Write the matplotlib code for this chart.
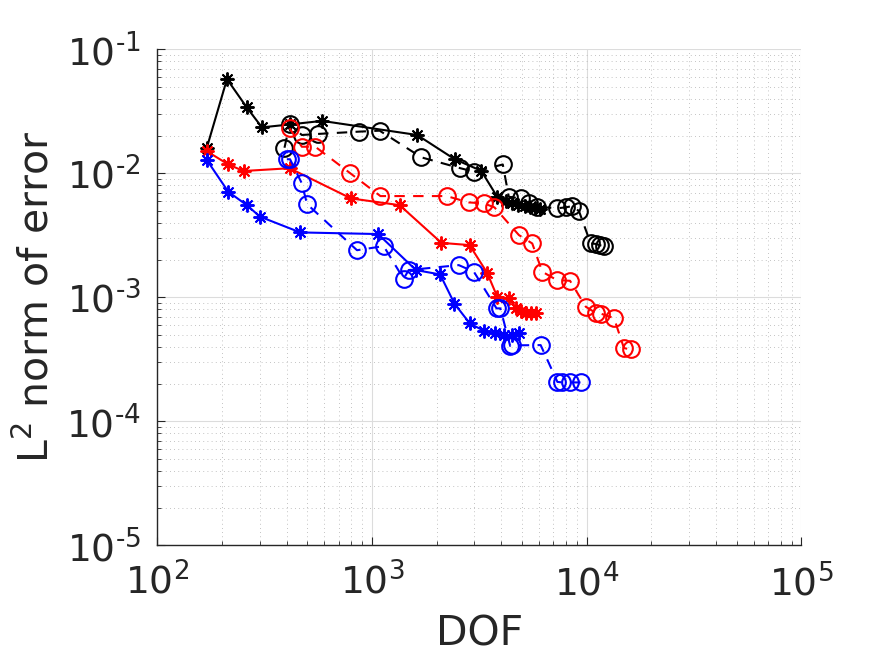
import numpy as np
import matplotlib
matplotlib.use("Agg")
import matplotlib.pyplot as plt
from matplotlib.ticker import LogLocator, NullFormatter

# Black solid (asterisk)
black_solid_x = [170, 211, 261, 307, 413, 585, 1623, 2427, 3222, 3830, 4190, 4510, 4810, 5130, 5420, 5720, 6030]
black_solid_y = [0.0161, 0.0576, 0.034, 0.0235, 0.0248, 0.0265, 0.0204, 0.013, 0.0105, 0.00647, 0.00598, 0.00575, 0.00554, 0.00544, 0.00534, 0.00525, 0.00515]
# Black dashed (circle)
black_dash_x = [391, 413, 471, 560, 866, 1085, 1699, 2581, 3000, 4064, 4335, 4920, 5370, 5890, 7300, 7980, 8580, 9200, 10430, 11000, 11520, 12030]
black_dash_y = [0.0161, 0.0248, 0.0204, 0.0208, 0.0217, 0.0221, 0.01346, 0.011, 0.0103, 0.0118, 0.00647, 0.00628, 0.0058, 0.00538, 0.00523, 0.00532, 0.00545, 0.00497, 0.00272, 0.0027, 0.00263, 0.00259]
# Red solid (asterisk)
red_solid_x = [170, 214, 252, 413, 798, 1345, 2105, 2845, 3435, 3830, 4340, 4700, 4950, 5200, 5480, 5780]
red_solid_y = [0.0151, 0.0118, 0.01045, 0.011, 0.00628, 0.00554, 0.00275, 0.00264, 0.00158, 0.00101, 0.00098, 0.00082, 0.00077, 0.00075, 0.00075, 0.00075]
# Red dashed (circle)
red_dash_x = [413, 471, 544, 787, 1094, 2225, 2822, 3314, 3716, 4830, 5575, 6205, 7250, 8360, 9900, 11000, 11600, 13400, 14900, 16000]
red_dash_y = [0.0231, 0.0164, 0.0164, 0.0101, 0.00656, 0.00656, 0.00583, 0.00573, 0.00532, 0.00318, 0.00272, 0.00161, 0.00138, 0.00136, 0.00084, 0.00075, 0.00074, 0.00068, 0.00039, 0.00038]
# Blue solid (asterisk)
blue_solid_x = [170, 214, 261, 301, 463, 1067, 1600, 2075, 2420, 2853, 3314, 3755, 4110, 4500, 4830]
blue_solid_y = [0.0128, 0.00711, 0.00554, 0.00447, 0.00334, 0.00324, 0.00166, 0.00153, 0.00089, 0.000616, 0.000538, 0.000512, 0.000497, 0.000497, 0.000512]
# Blue dashed (circle)
blue_dash_x = [401, 415, 471, 498, 851, 1133, 1403, 1481, 2535, 2980, 3800, 3960, 4400, 4500, 6100, 7300, 7700, 8400, 9370]
blue_dash_y = [0.013, 0.013, 0.0083, 0.00565, 0.0024, 0.00259, 0.00141, 0.00166, 0.00182, 0.00161, 0.000815, 0.000815, 0.000405, 0.00041, 0.000412, 0.000208, 0.000206, 0.000206, 0.000206]

xticks = [1e2, 1e3, 1e4, 1e5]
xticklabels = [r'$10^{2}$', r'$10^{3}$', r'$10^{4}$', r'$10^{5}$']
yticks = [1e-5, 1e-4, 1e-3, 1e-2, 1e-1]
yticklabels = [r'$10^{\text{-}5}$', r'$10^{\text{-}4}$', r'$10^{\text{-}3}$', r'$10^{\text{-}2}$', r'$10^{\text{-}1}$']

plt.rcParams['font.family'] = ['DejaVu Sans']
plt.rcParams['mathtext.fontset'] = 'dejavusans'

fig = plt.figure(figsize=(8.84, 6.63), dpi=100)
ax = fig.add_axes([0.178, 0.1775, 0.7286, 0.748])

ast = (8, 2, 0)
lw = 1.5
ax.plot(black_solid_x, black_solid_y, '-', color='black', marker=ast, ms=10, mew=1.4, lw=lw, zorder=3)
ax.plot(black_dash_x, black_dash_y, '--', color='black', marker='o', ms=12, mfc='none', mew=1.5, lw=lw, dashes=(5, 4), zorder=3)
ax.plot(red_solid_x, red_solid_y, '-', color='red', marker=ast, ms=10, mew=1.4, lw=lw, zorder=3)
ax.plot(red_dash_x, red_dash_y, '--', color='red', marker='o', ms=12, mfc='none', mew=1.5, lw=lw, dashes=(5, 4), zorder=3)
ax.plot(blue_solid_x, blue_solid_y, '-', color='blue', marker=ast, ms=10, mew=1.4, lw=lw, zorder=3)
ax.plot(blue_dash_x, blue_dash_y, '--', color='blue', marker='o', ms=12, mfc='none', mew=1.5, lw=lw, dashes=(5, 4), zorder=3)

ax.set_xscale('log')
ax.set_yscale('log')
ax.set_xlim(1e2, 1e5)
ax.set_ylim(1e-5, 1e-1)
ax.set_xticks(xticks)
ax.set_xticklabels(xticklabels)
ax.set_yticks(yticks)
ax.set_yticklabels(yticklabels)
ax.xaxis.set_minor_locator(LogLocator(base=10, subs=np.arange(2, 10), numticks=20))
ax.yaxis.set_minor_locator(LogLocator(base=10, subs=np.arange(2, 10), numticks=20))
ax.xaxis.set_minor_formatter(NullFormatter())
ax.yaxis.set_minor_formatter(NullFormatter())

ax.grid(True, which='major', color='#dcdcdc', lw=0.8, ls='-')
ax.grid(True, which='minor', color='#b0b0b0', lw=0.6, ls=(0, (1, 4)))
ax.set_axisbelow(True)

for s in ['top', 'right']:
    ax.spines[s].set_visible(False)
for s in ['left', 'bottom']:
    ax.spines[s].set_color('#262626')
    ax.spines[s].set_linewidth(1.0)

ax.tick_params(which='both', direction='in', colors='#262626', labelsize=27)
ax.tick_params(which='major', length=6, width=0.8)
ax.tick_params(which='minor', length=3, width=0.6)
ax.tick_params(axis='x', pad=13)
ax.tick_params(axis='y', pad=12)

ax.set_xlabel('DOF', fontsize=29.5, color='#262626', labelpad=8)
ax.set_ylabel(r'$\mathregular{L^{2}}$ norm of error', fontsize=29.5, color='#262626', labelpad=6)

fig.savefig('out.png', dpi=100)
